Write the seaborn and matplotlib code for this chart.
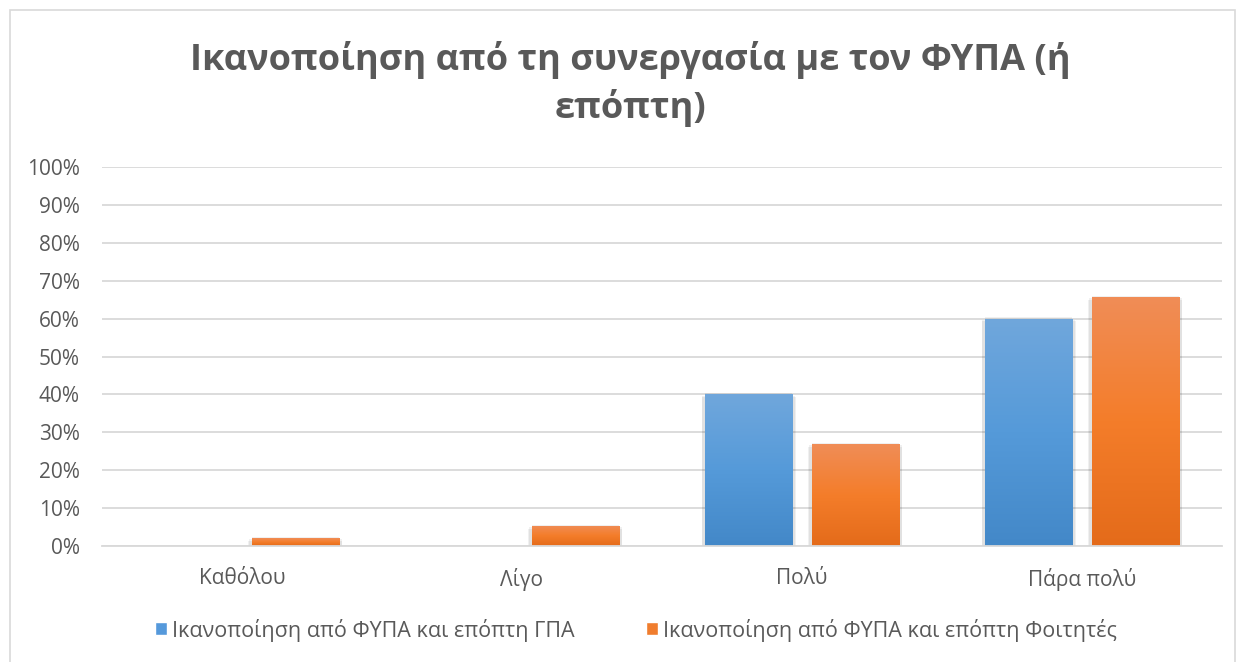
import numpy as np
import pandas as pd
import matplotlib
matplotlib.use("Agg")
import matplotlib.pyplot as plt
import seaborn as sns
from matplotlib.colors import LinearSegmentedColormap
from matplotlib.patches import Rectangle
from matplotlib import patheffects as pe
from matplotlib.ticker import FuncFormatter

# ---- data ----
categories = ["Καθόλου", "Λίγο", "Πολύ", "Πάρα πολύ"]
series_names = [
    "Ικανοποίηση από ΦΥΠΑ και επόπτη ΓΠΑ",
    "Ικανοποίηση από ΦΥΠΑ και επόπτη Φοιτητές",
]
gpa_values = [0, 0, 40, 60]
student_values = [2.1, 5.3, 26.9, 65.7]
y_ticks = list(range(0, 101, 10))
title = "Ικανοποίηση από τη συνεργασία με τον ΦΥΠΑ (ή\nεπόπτη)"

df = pd.DataFrame({
    "Κατηγορία": categories * 2,
    "Σειρά": [series_names[0]] * len(categories) + [series_names[1]] * len(categories),
    "Ποσοστό": gpa_values + student_values,
})

sns.set_theme(style="white")
plt.rcParams["font.family"] = ["Open Sans", "DejaVu Sans"]
text_color = "#595959"
grid_color = "#d9d9d9"
label_size = 15

fig = plt.figure(figsize=(12.39, 6.62), dpi=100)
ax = fig.add_axes([102 / 1239, 1 - 546 / 662, 1120 / 1239, 379 / 662])

base_colors = {series_names[0]: "#5b9bd5", series_names[1]: "#ed7d31"}
sns.barplot(
    data=df, x="Κατηγορία", y="Ποσοστό", hue="Σειρά",
    order=categories, hue_order=series_names, palette=base_colors,
    width=0.764, gap=0.186, saturation=1, legend=False, ax=ax,
)

# vertical gradient fill per bar (light at top, darker at bottom) with a soft shadow
gradients = [
    ["#4388c8", "#559ad9", "#70a7dc"],
    ["#e46b1a", "#f47d2a", "#f08d57"],
]
ramp = np.linspace(0, 1, 256).reshape(-1, 1)
shadow = [
    pe.SimplePatchShadow(offset=off, shadow_rgbFace="#000000", alpha=0.06)
    for off in [(-2, -1), (2, -1), (0, -2.5), (2.5, -2), (-2.5, -2), (0, 1)]
]
for i, cont in enumerate(ax.containers):
    cmap = LinearSegmentedColormap.from_list(f"grad{i}", gradients[i])
    for bar in cont:
        x0, w, h = bar.get_x(), bar.get_width(), bar.get_height()
        if h <= 0:
            bar.set_visible(False)
            continue
        bar.set_facecolor("none")
        bar.set_edgecolor("none")
        bar.set_zorder(2)
        bar.set_path_effects(shadow + [pe.Normal()])
        img = ax.imshow(ramp, cmap=cmap, extent=(x0, x0 + w, 0, h),
                        origin="lower", aspect="auto", zorder=2.5,
                        interpolation="bilinear")
        img.set_clip_path(bar)

ax.set_xlim(-0.5, len(categories) - 0.5)
ax.set_ylim(0, 100)
ax.set_yticks(y_ticks)
ax.yaxis.set_major_formatter(FuncFormatter(lambda v, _: f"{v:.0f}%"))
ax.set_axisbelow(True)
ax.yaxis.grid(True, color=grid_color, linewidth=1.3)
ax.xaxis.grid(False)
for side in ["left", "right", "top"]:
    ax.spines[side].set_visible(False)
ax.spines["bottom"].set_color(grid_color)
ax.spines["bottom"].set_linewidth(1.3)
ax.tick_params(axis="both", length=0, labelsize=label_size, labelcolor=text_color)
ax.tick_params(axis="y", pad=16)
ax.tick_params(axis="x", pad=16)
ax.set_xlabel("")
ax.set_ylabel("")

# title
fig.text(630 / 1239, 1 - 84 / 662, title, ha="center", va="center",
         fontsize=26, fontweight="bold", color=text_color, linespacing=1.35)

# legend
handles = [Rectangle((0, 0), 1, 1, facecolor=c) for c in ["#5599db", "#f07d2e"]]
fig.legend(handles, series_names, loc="center",
           bbox_to_anchor=(636 / 1239, 1 - 630 / 662), ncol=2, frameon=False,
           handlelength=0.55, handleheight=0.55, handletextpad=0.25,
           columnspacing=3.3, fontsize=15.5, labelcolor=text_color)

# chart-area border
fig.patches.append(Rectangle((10 / 1239, -0.01), 1225 / 1239, 1 - 10 / 662 + 0.01,
                             transform=fig.transFigure, fill=False,
                             edgecolor=grid_color, linewidth=1.2))

fig.savefig("out.png", dpi=100)
